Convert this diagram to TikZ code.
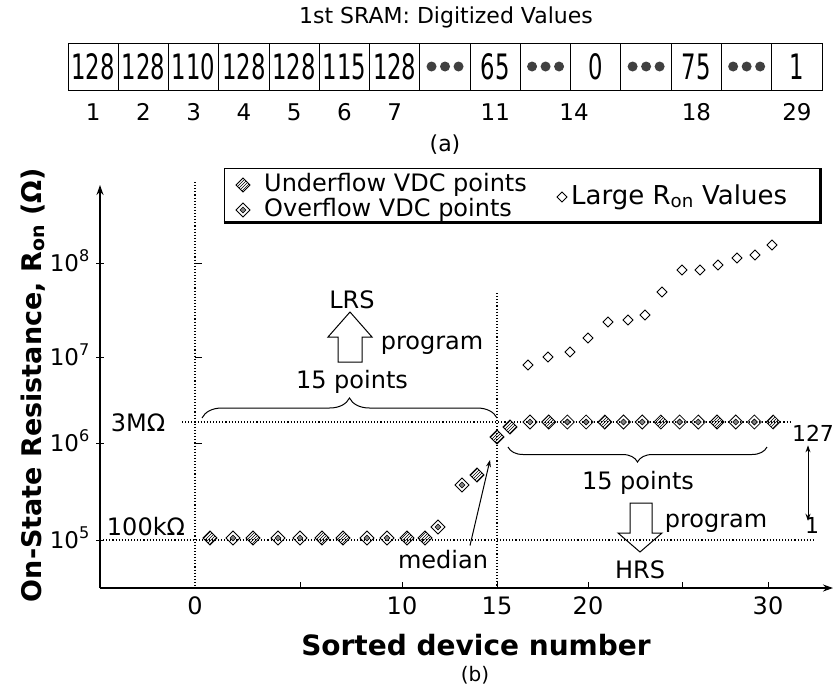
\documentclass[tikz,border=0pt]{standalone}
\usepackage{
	fontspec,			% Fonts
	graphicx,			% Scale Boxes
	tikz
}
\usetikzlibrary{arrows.meta,decorations.pathreplacing,patterns}
\setmainfont{DejaVu Sans}
\newcommand{\fs}[1]{\fontsize{#1}{#1}\selectfont}

\begin{document}
\begin{tikzpicture}[x=1pt,y=-1pt,
		txt/.style={inner sep=0pt,font=\fs{24}},
		cell/.style={draw,line width=1pt,inner sep=0pt,minimum width=50.27pt,minimum height=47pt,font=\fs{35}},
		guide/.style={dotted,line width=1.1pt},
		axis/.style={line width=1.5pt,-{Stealth[length=10pt,width=7pt]}},
		blockarrow/.style={line width=1pt,line join=miter},
		under/.pic={\draw[pattern=north east lines,line width=.8pt] (-7,0) -- (0,-7) -- (7,0) -- (0,7) -- cycle;},
		over/.pic={\draw[line width=.8pt] (-7,0) -- (0,-7) -- (7,0) -- (0,7) -- cycle;
			\filldraw[fill=gray,line width=.6pt] (-3,0) -- (0,-3) -- (3,0) -- (0,3) -- cycle;},
		large/.pic={\draw[line width=.9pt] (-5,0) -- (0,-5) -- (5,0) -- (0,5) -- cycle;}]
	\useasboundingbox (0,0) rectangle (835,694);
	\node[txt,font=\fs{22}] (title) at (446,17) {1st SRAM: Digitized Values};
	\foreach \i/\v in {1/128,2/128,3/110,4/128,5/128,6/115,7/128,9/65,11/0,13/75,15/1}
		\node[cell] (c\i) at ({68+50.27*(\i-0.5)},66.5) {\scalebox{0.65}[1]{\v}};
	\foreach \i in {8,10,12,14} {
		\node[cell] (c\i) at ({68+50.27*(\i-0.5)},66.5) {};
		\foreach \d in {-13.5,0,13.5}
			\fill[black!75] ([xshift=\d pt]c\i.center) circle [radius=5pt];
	}
	\foreach \i/\t in {1/1,2/2,3/3,4/4,5/5,6/6,7/7,9/11,13/18,15/29}
		\node[txt,font=\fs{23}] (k\i) at ({68+50.27*(\i-0.5)},112) {\t};
	\node[txt,font=\fs{23}] (k11) at (574,112) {14};
	\node[txt,font=\fs{22}] (a) at (445,145) {(a)};

	\coordinate (o) at (100,588);
	\draw[axis] (o) -- (100,185) coordinate (y axis);
	\draw[axis] (o) -- (833,588) coordinate (x axis);
	\foreach \e/\y in {5/540,6/443,7/357,8/263} {
		\draw[line width=1pt] (96,\y) -- (104,\y);
		\node[txt,font=\fs{23},anchor=base east] (e\e) at (90,\y+8) {10\textsuperscript{\e}};
	}
	\foreach \y in {443,357,263}
		\draw[line width=.8pt] (195,\y) -- (202,\y);
	\foreach \x/\t in {195/0,402/10,497/15,588/20,768/30}
		\node[txt] (t\t) at (\x,606) {\t};
	\foreach \x in {300,402,497,588,682,768}
		\draw[line width=1pt] (\x,588) -- (\x,582);

	\draw[guide] (195,182) -- (195,588);
	\draw[guide] (497,293) -- (497,588);
	\draw[guide] (182,422) -- (790,422);
	\draw[guide] (100,540) -- (815,540);
	\node[txt] (r3m) at (138,423) {3MΩ};
	\node[txt] (r100k) at (146,527) {100kΩ};

	\node[draw,line width=1pt,minimum width=596pt,minimum height=54pt] (legend) at (522,195) {};
	\draw[line width=3pt] (legend.south west) -- (legend.south east) -- (legend.north east);
	\pic at (243,185) {under};
	\node[txt,anchor=west] (lu) at (264,185) {Underflow VDC points};
	\pic at (243,210) {over};
	\node[txt,anchor=west] (lo) at (264,210) {Overflow VDC points};
	\pic at (562,197) {large};
	\node[txt,anchor=west,font=\fs{26}] (ll) at (571,197) {Large R\textsubscript{on} Values};

	\foreach \x/\y/\k in {210/538/under,233/538/over,253/538/under,278/538/over,300/538/over,
		322/538/under,343/538/under,367/538/over,387/538/over,407/538/under,425/538/under,
		438/527/over,462/485/over,477/475/under,497/437/under,510/427/under}
		\pic at (\x,\y) {\k};
	\foreach \i/\k in {0/over,1/under,2/over,3/over,4/under,5/over,6/over,7/under,8/over,
		9/over,10/under,11/over,12/over,13/under}
		\pic at ({530+18.7*\i},422) {\k};
	\foreach \x/\y in {528/365,548/357,570/352,588/338,608/322,628/320,645/315,
		662/292,682/270,700/270,718/265,737/258,755/255,772/245}
		\pic at (\x,\y) {large};

	\draw[line width=1pt,decorate,decoration={brace,amplitude=20pt}] (202,418) -- (497,418);
	\node[txt] (p1) at (352,382) {15 points};
	\draw[blockarrow] (350,312) -- (372,337) -- (362,337) -- (362,362) -- (338,362) -- (338,337) -- (328,337) -- cycle;
	\node[txt] (lrs) at (352,300) {LRS};
	\node[txt] (prog1) at (432,345) {program};

	\draw[line width=1pt,decorate,decoration={brace,amplitude=15pt}] (767,447) -- (508,447);
	\node[txt] (p2) at (638,483) {15 points};
	\draw[blockarrow] (640,552) -- (662,533) -- (652,533) -- (652,503) -- (630,503) -- (630,533) -- (618,533) -- cycle;
	\node[txt] (hrs) at (640,570) {HRS};
	\node[txt] (prog2) at (716,523) {program};

	\node[txt] (median) at (443,560) {median};
	\coordinate (medtip) at (490,460);
	\draw[line width=1pt,-{Stealth[length=7pt,width=5pt]}] ([xshift=27pt,yshift=5pt]median.north) -- (medtip);

	\node[txt,font=\fs{22}] (n127) at (813,433) {127};
	\node[txt,font=\fs{22}] (n1) at (812,525) {1};
	\draw[line width=1pt,{Stealth[length=7pt,width=5pt]}-{Stealth[length=7pt,width=5pt]}]
		([xshift=-5pt,yshift=-4pt]n127.south) -- ([xshift=-5pt,yshift=-4pt]n127.south |- n1.north);

	\node[txt,font=\bfseries\fs{27},rotate=90] (ylab) at (33,385) {On-State Resistance, R\textsubscript{on} (Ω)};
	\node[txt,font=\bfseries\fs{28}] (xlab) at (476,645) {Sorted device number};
	\node[txt,font=\fs{20}] (b) at (475,675) {(b)};
\end{tikzpicture}
\end{document}
